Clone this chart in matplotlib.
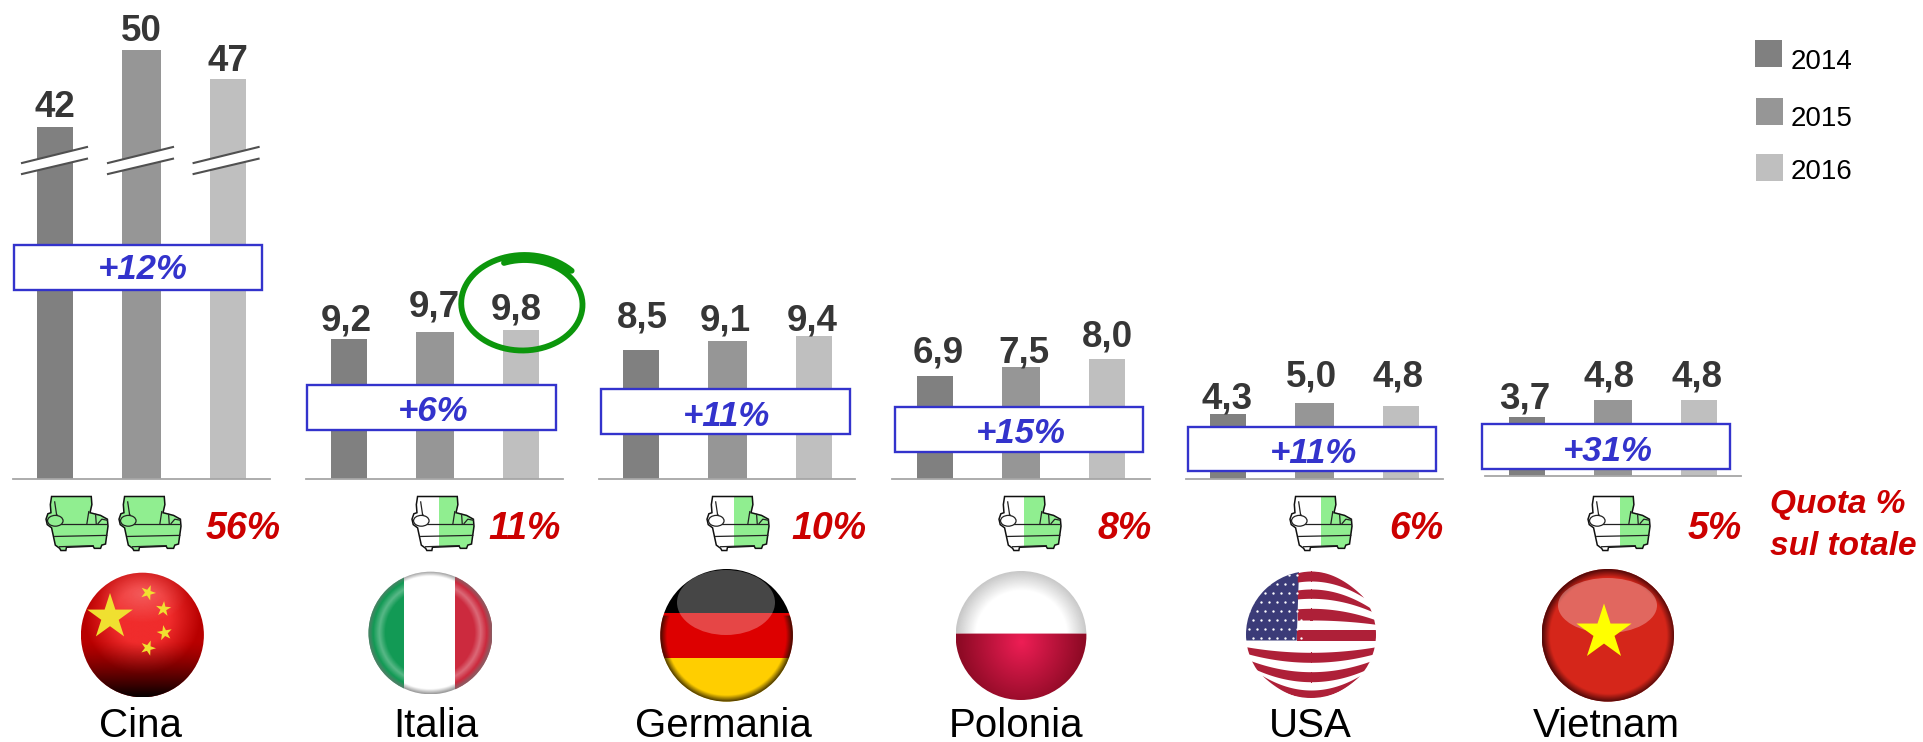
import matplotlib
matplotlib.use("Agg")
import matplotlib.pyplot as plt
import numpy as np
from matplotlib.patches import Rectangle, Ellipse, Polygon

plt.rcParams['font.family'] = ['Liberation Sans', 'DejaVu Sans']

W, H = 1924, 742

# data
countries = ['Cina', 'Italia', 'Germania', 'Polonia', 'USA', 'Vietnam']
years = ['2014', '2015', '2016']
values_2014 = [42, 9.2, 8.5, 6.9, 4.3, 3.7]
values_2015 = [50, 9.7, 9.1, 7.5, 5.0, 4.8]
values_2016 = [47, 9.8, 9.4, 8.0, 4.8, 4.8]
growth = ['+12%', '+6%', '+11%', '+15%', '+11%', '+31%']
share = ['56%', '11%', '10%', '8%', '6%', '5%']

colors = ['#808080', '#969696', '#bfbfbf']
blue = '#3333cc'
red = '#cc0000'
dark = '#363636'
green = '#90ee90'

# panel layout, in pixels
axis_x0 = [13, 306.5, 599, 892.5, 1186, 1485]
axis_x1 = [270, 563.5, 855.5, 1149.5, 1443, 1741]
baseline = [479.3, 479.3, 479.3, 479.3, 479.3, 476.3]
bar_centre = [55, 349, 641, 935, 1228, 1527]
bar_step = [86.5, 86, 86.5, 86, 86.5, 86]
px_per_unit = [9.6, 15.2, 15.2, 15.0, 15.2, 16.0]
y_start = [5.3, 0, 0, 0, 0, 0]

label_x = [[55, 141.5, 228], [346, 434, 516.5], [642, 725, 812],
           [938, 1024, 1107], [1227, 1311, 1398], [1525, 1609.5, 1697]]
label_y = [[116.7, 40.7, 70.7], [330, 316.7, 319.3], [327.3, 330.7, 330.7],
           [362.7, 362.7, 346], [408, 386.7, 386.7], [408, 386.7, 386.7]]

box_x = [(14, 262.5), (307, 556), (600.7, 849.7), (894.8, 1143), (1188, 1436), (1482, 1730)]
box_y = [(244.7, 290), (385, 430), (389, 434), (407, 451.7), (426.7, 471.3), (424, 469)]
box_text = [(142.7, 279), (433, 420.7), (727, 426), (1021, 443.3), (1314, 462.7), (1607.5, 460.7)]

share_right = [281, 561, 867, 1151.5, 1443.5, 1741.5]
name_x = [141, 435.5, 723, 1016, 1310, 1606]

legend_x = [1755, 1756, 1756]
legend_y = [40, 98, 154]
legend_base = [68.7, 126, 179.3]

# chair left edge, width and the point where the green fill starts
chairs = [(46, 62, 0.0), (119, 62, 0.0), (412, 62, 0.43), (707, 62, 0.435),
          (999, 62, 0.41), (1290, 62, 0.5), (1588, 62, 0.52)]


def fmt(v, i):
    if i == 0:
        return str(v)
    return f'{v:.1f}'.replace('.', ',')


fig = plt.figure(figsize=(W / 100, H / 100), dpi=100, facecolor='white')

series = [values_2014, values_2015, values_2016]
for i in range(6):
    left, right = axis_x0[i], axis_x1[i]
    ax = fig.add_axes([left / W, 1 - baseline[i] / H, (right - left) / W, baseline[i] / H])
    vals = [s[i] for s in series]
    ax.bar(range(3), vals, width=[0.42, 0.45, 0.42], color=colors)
    ax.set_xlim((left - bar_centre[i]) / bar_step[i], (right - bar_centre[i]) / bar_step[i])
    ax.set_ylim(y_start[i], y_start[i] + baseline[i] / px_per_unit[i])
    for s in ['top', 'left', 'right']:
        ax.spines[s].set_visible(False)
    ax.spines['bottom'].set_color('#a6a6a6')
    ax.spines['bottom'].set_linewidth(1.3)
    ax.set_xticks([])
    ax.set_yticks([])
    ax.patch.set_alpha(0)

# everything else goes on a full size layer in pixel units
top = fig.add_axes([0, 0, 1, 1], zorder=5)
top.set_xlim(0, W)
top.set_ylim(H, 0)
top.axis('off')
top.patch.set_alpha(0)

# value labels
for i in range(6):
    for j in range(3):
        top.text(label_x[i][j], label_y[i][j], fmt(series[j][i], i), ha='center', va='baseline',
                 fontsize=26.5, fontweight='bold', color=dark, zorder=6)

# axis break on the first panel
for x0 in [22, 108, 193.6]:
    top.add_patch(Polygon([(x0, 163), (x0 + 65, 147), (x0 + 65, 158.7), (x0, 174)], fc='white', ec='none', zorder=3))
    top.plot([x0, x0 + 65], [163, 147], color='#505050', lw=1.5, zorder=4)
    top.plot([x0, x0 + 65], [174, 158.7], color='#505050', lw=1.5, zorder=4)

# growth boxes
for i in range(6):
    (x0, x1), (y0, y1) = box_x[i], box_y[i]
    top.add_patch(Rectangle((x0, y0), x1 - x0, y1 - y0, fc='white', ec=blue, lw=1.7, zorder=4))
    top.text(box_text[i][0], box_text[i][1], growth[i], ha='center', va='baseline', fontsize=25,
             fontweight='bold', fontstyle='italic', color=blue, zorder=6)

# share labels
for i in range(6):
    top.text(share_right[i], 539, share[i], ha='right', va='baseline', fontsize=27,
             fontweight='bold', fontstyle='italic', color=red, zorder=6)
top.text(1770, 513, 'Quota %', ha='left', va='baseline', fontsize=24, fontweight='bold',
         fontstyle='italic', color=red, zorder=6)
top.text(1770, 555, 'sul totale', ha='left', va='baseline', fontsize=24, fontweight='bold',
         fontstyle='italic', color=red, zorder=6)

# country names
for i in range(6):
    top.text(name_x[i], 736.7, countries[i], ha='center', va='baseline', fontsize=29, color='black', zorder=6)

# legend
for c, y, x, yy, b in zip(colors, years, legend_x, legend_y, legend_base):
    top.add_patch(Rectangle((x, yy), 27, 27, fc=c, ec='none', zorder=3))
    top.text(1790.5, b, y, ha='left', va='baseline', fontsize=20, color='black', zorder=6)

# armchair outline in unit coordinates
chair_shape = [(0.09, 0.0), (0.73, 0.0), (0.74, 0.15), (0.71, 0.30), (0.88, 0.35), (0.99, 0.42),
               (1.0, 0.55), (0.96, 0.88), (0.90, 0.90), (0.88, 0.96), (0.78, 0.96), (0.76, 0.92),
               (0.33, 0.94), (0.32, 1.0), (0.24, 1.0), (0.22, 0.96), (0.15, 0.90), (0.09, 0.58),
               (0.02, 0.52), (0.0, 0.42), (0.03, 0.32), (0.08, 0.30), (0.07, 0.15)]


def draw_chair(x, w, fill_from, y=496.5, h=54):
    pts = [(x + u * w, y + v * h) for u, v in chair_shape]
    body = Polygon(pts, closed=True, fc='white', ec='none', zorder=3)
    top.add_patch(body)
    g = Rectangle((x + fill_from * w, y), (1 - fill_from) * w, h, fc=green, ec='none', zorder=3.1)
    top.add_patch(g)
    g.set_clip_path(body)
    top.add_patch(Polygon(pts, closed=True, fc='none', ec='#111111', lw=1.1, zorder=3.3))
    # seat and arm details
    lines = [[(0.24, 0.50), (0.97, 0.50)], [(0.14, 0.74), (0.98, 0.72)], [(0.22, 0.93), (0.76, 0.91)],
             [(0.69, 0.28), (0.66, 0.50)], [(0.80, 0.33), (0.81, 0.50)], [(0.84, 0.50), (0.90, 0.42), (0.99, 0.44)],
             [(0.14, 0.10), (0.17, 0.33)], [(0.17, 0.33), (0.26, 0.48)]]
    for seg in lines:
        top.plot([x + p[0] * w for p in seg], [y + p[1] * h for p in seg], color='#222222', lw=0.9, zorder=3.3)
    top.add_patch(Ellipse((x + 0.15 * w, y + 0.45 * h), 0.25 * w, 0.2 * h, fc='white' if fill_from else green,
                          ec='#222222', lw=0.9, zorder=3.3))


for x, w, f in chairs:
    draw_chair(x, w, f)


def star_points(cx, cy, r, rot=0.0):
    ang = np.deg2rad(-90 + rot + np.arange(10) * 36)
    rad = np.where(np.arange(10) % 2 == 0, r, r * 0.382)
    return np.column_stack([cx + rad * np.cos(ang), cy + rad * np.sin(ang)])


def shade(clip, cx, cy, rx, ry, fn, z):
    # fn maps normalised coordinates to an RGBA array drawn inside the ellipse
    xx, yy = np.meshgrid(np.linspace(-1, 1, 200), np.linspace(-1, 1, 200))
    im = top.imshow(fn(xx, yy), extent=(cx - rx, cx + rx, cy + ry, cy - ry), aspect='auto',
                    zorder=z, interpolation='bilinear')
    im.set_clip_path(clip)


def rgba(col, alpha):
    out = np.zeros(alpha.shape + (4,))
    out[..., :3] = matplotlib.colors.to_rgb(col)
    out[..., 3] = np.clip(alpha, 0, 1)
    return out


def blend(col0, col1, r, alpha=None):
    # colour ramp from col0 at r=0 to col1 at r=1
    r = np.clip(r, 0, 1)[..., None]
    c0 = np.array(matplotlib.colors.to_rgb(col0))
    c1 = np.array(matplotlib.colors.to_rgb(col1))
    out = np.ones(r.shape[:2] + (4,))
    out[..., :3] = c0 * (1 - r) + c1 * r
    if alpha is not None:
        out[..., 3] = alpha
    return out


def sphere(cx, cy, rx, ry):
    e = Ellipse((cx, cy), 2 * rx, 2 * ry, fc='none', ec='none', zorder=1)
    top.add_patch(e)
    return e


def clipped_rect(clip, x0, y0, x1, y1, col, z=2, alpha=1):
    r = Rectangle((x0, y0), x1 - x0, y1 - y0, fc=col, ec='none', zorder=z, alpha=alpha)
    top.add_patch(r)
    r.set_clip_path(clip)


def gloss(cx, cy, rx, ry, alpha):
    top.add_patch(Ellipse((cx, cy), 2 * rx, 2 * ry, fc='white', ec='none', alpha=alpha, zorder=2.5))


# Cina
cx, cy, rx, ry = 142.4, 635, 61.5, 62.3
e = sphere(cx, cy, rx, ry)
shade(e, cx, cy, rx, ry, lambda x, y: blend('#f02c2c', '#b80000', (np.hypot(x, (y + 0.3)) - 0.45) / 0.5), 2)
shade(e, cx, cy, rx, ry, lambda x, y: rgba('black', np.where(y > 0.1, 0.97 * ((y - 0.1) / 0.9) ** 1.4, 0)), 2.2)
shade(e, cx, cy, rx, ry, lambda x, y: rgba('white', 0.22 * np.clip(1 - np.hypot(x, (y + 0.65) * 1.6) / 0.75, 0, 1)), 2.3)
top.add_patch(Polygon(star_points(110, 617, 24), fc='#f0e030', ec='none', zorder=2.6))
for sx, sy, rot in [(148, 592.7, 20), (163.4, 609, 5), (164.6, 633, -10), (148, 648, 20)]:
    top.add_patch(Polygon(star_points(sx, sy, 8, rot), fc='#f0e030', ec='none', zorder=2.6))

# Italia
cx, cy, rx, ry = 430.5, 633, 62, 61.3
e = sphere(cx, cy, rx, ry)
clipped_rect(e, cx - rx, cy - ry, 403.7, cy + ry, '#129a55')
clipped_rect(e, 403.7, cy - ry, 455.4, cy + ry, 'white')
clipped_rect(e, 455.4, cy - ry, cx + rx, cy + ry, '#cc2a3e')
shade(e, cx, cy, rx, ry, lambda x, y: rgba('white', 0.3 * np.clip(1 - np.abs(np.hypot(x, y) - 0.82) / 0.1, 0, 1)), 2.1)
shade(e, cx, cy, rx, ry, lambda x, y: rgba('#707070', 0.7 * np.clip((np.hypot(x, y) - 0.92) / 0.08, 0, 1)), 2.2)

# Germania
cx, cy, rx, ry = 726.6, 635.3, 66.3, 66.3
e = sphere(cx, cy, rx, ry)
clipped_rect(e, cx - rx, cy - ry, cx + rx, 613.3, '#000000')
clipped_rect(e, cx - rx, 613.3, cx + rx, 657.7, '#dd0000')
clipped_rect(e, cx - rx, 657.7, cx + rx, cy + ry, '#ffce00')
shade(e, cx, cy, rx, ry, lambda x, y: rgba('#1a1000', np.where(y > -0.3, 0.8, 0) * np.clip((np.hypot(x, y) - 0.9) / 0.1, 0, 1)), 2.2)
gloss(726, 602.5, 49, 32.5, 0.28)

# Polonia
cx, cy, rx, ry = 1021, 635.5, 65.4, 64.5
e = sphere(cx, cy, rx, ry)
clipped_rect(e, cx - rx, cy - ry, cx + rx, 633.3, '#ffffff')
shade(e, cx, cy, rx, ry, lambda x, y: rgba('#c8c8c8', np.where(y < -0.03, np.clip((np.hypot(x, y) - 0.7) / 0.3, 0, 1), 0)), 2.1)
shade(e, cx, cy, rx, ry, lambda x, y: blend('#ee1e55', '#8e0a25', np.hypot(x, (y - 0.1) * 0.9) / 0.95, (y > -0.03).astype(float)), 2.2)

# USA
cx, cy, rx, ry = 1311, 634.5, 65, 63.5
e = sphere(cx, cy, rx, ry)
canton = Polygon([(1299.2, 565), (1296.7, 640.5), (1240, 640.5), (1240, 565)], fc='#3b3b78', ec='none', zorder=2)
top.add_patch(canton)
canton.set_clip_path(e)
sx, sy = np.meshgrid(np.arange(1249, 1298, 8.0), np.arange(575, 640, 9.0))
sx = sx + (np.arange(sx.shape[0])[:, None] % 2) * 4
dots = top.plot(sx.ravel(), sy.ravel(), ls='none', marker='o', ms=1.7, color='white', mew=0, zorder=2.1)[0]
dots.set_clip_path(e)
# stripes: top and bottom edge at the centre and at the rim
stripes = [(571, 581, 611, 606, True), (589, 598.3, 611.7, 613.3, True), (608.3, 620, 620, 624.3, True),
           (630, 641, 630, 641, True), (652.3, 662.3, 646.7, 653.3, False), (671.7, 681.7, 658.9, 664.7, False),
           (690, 698.3, 664.3, 658, False)]
xs = np.linspace(cx - rx, cx + rx, 300)
t = (xs - cx) / rx
for c_top, c_bot, e_top, e_bot, upper in stripes:
    y_top = c_top + (e_top - c_top) * t ** 2
    y_bot = c_bot + (e_bot - c_bot) * t ** 2
    mask = y_top < y_bot
    if upper:
        mask = mask & (xs > 1297)
    band = top.fill_between(xs, y_top, y_bot, where=mask, color='#ae2038', lw=0, zorder=2)
    band.set_clip_path(e)

# Vietnam
cx, cy, rx, ry = 1607.8, 635.3, 66.2, 66.3
e = sphere(cx, cy, rx, ry)
clipped_rect(e, cx - rx, cy - ry, cx + rx, cy + ry, '#d5261a')
shade(e, cx, cy, rx, ry, lambda x, y: rgba('#4a0808', 0.95 * np.clip((np.hypot(x, y) - 0.88) / 0.12, 0, 1)), 2.2)
gloss(1607.5, 605.5, 49.5, 27.5, 0.3)
top.add_patch(Polygon(star_points(1604, 632.5, 29), fc='#ffff00', ec='none', zorder=2.6))

# hand drawn circle around the 2016 Italian value
theta = np.deg2rad(np.linspace(-42, -470, 200))
scale = np.linspace(1.08, 0.95, 200)
top.plot(523.5 + 60 * scale * np.cos(theta), 304 + 46 * scale * np.sin(theta),
         color='#0c960c', lw=4.2, solid_capstyle='round', zorder=7)

top.set_xlim(0, W)
top.set_ylim(H, 0)

fig.savefig('out.png', dpi=100)
